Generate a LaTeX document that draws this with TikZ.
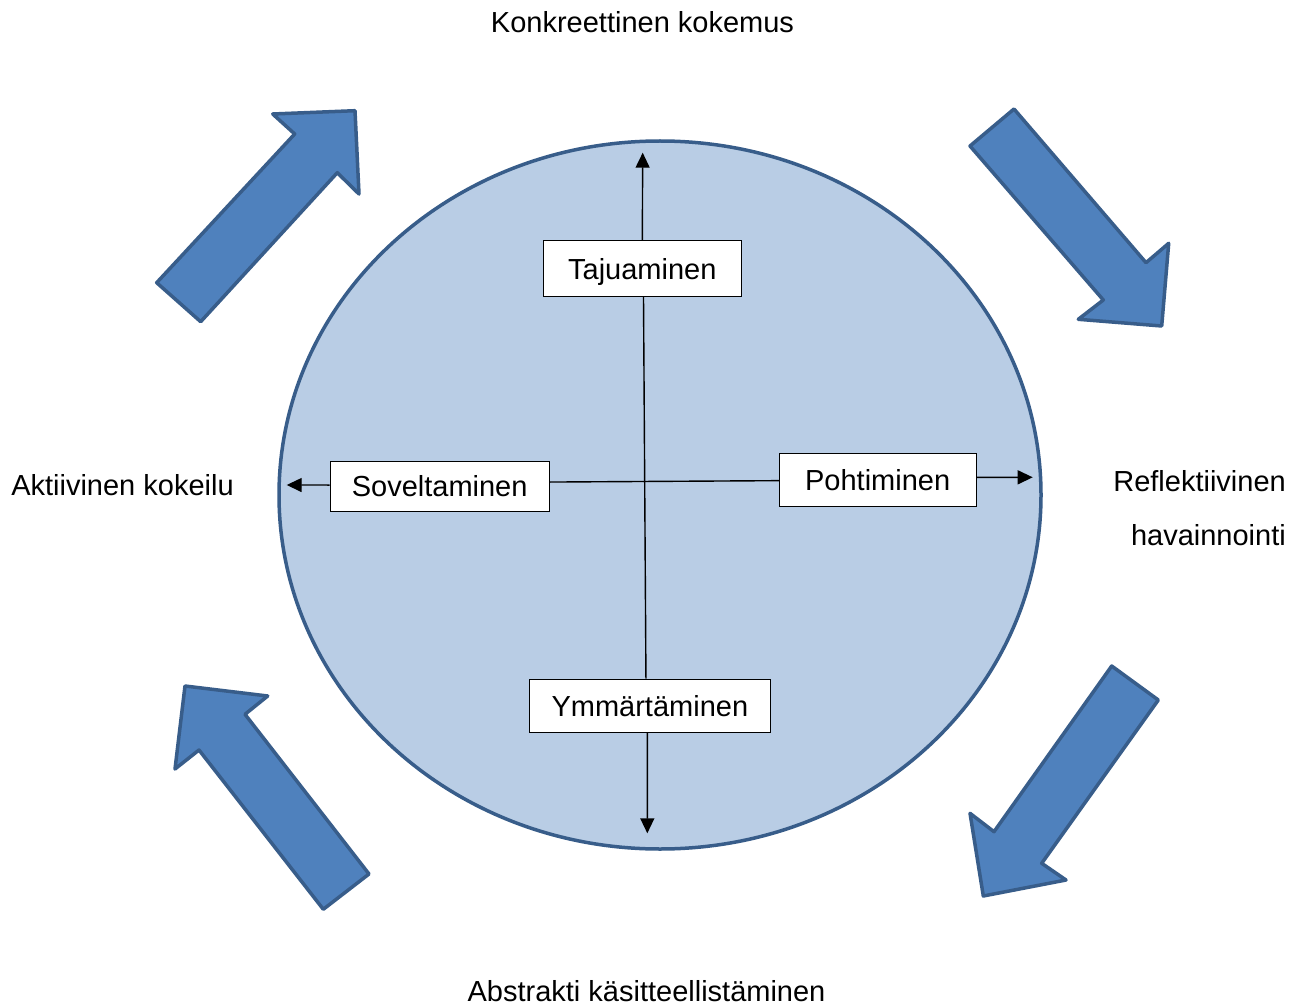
\documentclass[tikz,border=0pt]{standalone}
\usepackage{fontspec}
\setmainfont{Liberation Sans}
\usetikzlibrary{arrows.meta}
\definecolor{arrfill}{HTML}{4F81BD}
\definecolor{arrline}{HTML}{385D8A}
\definecolor{ellfill}{HTML}{B9CDE5}
\begin{document}
\begin{tikzpicture}[x=1pt,y=-1pt,
  bigarrow/.style={fill=arrfill,draw=arrline,line width=3.5pt,line join=round},
  stage/.style={draw=black,fill=white,line width=1pt,font=\fontsize{29}{34}\selectfont,
    text height=20.8pt,text depth=0pt,inner sep=0pt},
  label/.style={font=\fontsize{29}{34}\selectfont,inner sep=0pt},
  conn/.style={line width=1.4pt,-{Triangle[length=15pt,width=14pt]}},
  plain/.style={line width=1.4pt}]
\useasboundingbox (0,0) rectangle (1306,1008);
\fill[white] (0,0) rectangle (1306,1008);
% circle
\draw[fill=ellfill,draw=arrline,line width=3.5pt] (660,495) ellipse [x radius=381, y radius=354];
% big arrows
\draw[bigarrow] (156.7,282.7) -- (294.7,134) -- (272.7,114) -- (355,110.7) -- (359,194) -- (337.3,172.7) -- (200.7,321.7) -- cycle;
\draw[bigarrow] (1014,109) -- (1146,262.7) -- (1168.7,243.3) -- (1161.7,326) -- (1078.3,319.3) -- (1103.3,300) -- (970,146) -- cycle;
\draw[bigarrow] (1111.7,666) -- (1158.3,700) -- (1041.7,863.3) -- (1066,880) -- (983.3,896) -- (970,813.3) -- (994,831.7) -- cycle;
\draw[bigarrow] (323.3,909.3) -- (369,874) -- (245,714.3) -- (267.7,696) -- (185,686) -- (175,769) -- (199,750) -- cycle;
% boxes
\node[stage,minimum width=198pt,minimum height=55.7pt] (taju) at (642.3,268.85) {Tajuaminen};
\node[stage,minimum width=219.3pt,minimum height=50.7pt] (sov) at (439.65,486.35) {Soveltaminen};
\node[stage,minimum width=196.7pt,minimum height=52.7pt] (poh) at (877.65,479.65) {Pohtiminen};
\node[stage,minimum width=241.7pt,minimum height=53.3pt] (ymm) at (649.85,705.65) {Ymmärtäminen};
% tips
\coordinate (ttip) at (642.7,152.7);
\coordinate (btip) at (647.3,833.3);
\coordinate (ltip) at (286.7,485);
\coordinate (rtip) at (1032.7,477.3);
% connectors
\draw[conn] (taju.north) -- (ttip);
\draw[plain] ([xshift=1.2pt]taju.south) -- ([xshift=-3.9pt]ymm.north);
\draw[conn] ([xshift=-2.5pt]ymm.south) -- (btip);
\draw[conn] ([yshift=1.3pt]sov.west) -- (ltip);
\draw[plain] ([yshift=4.3pt]sov.east) -- ([yshift=-1pt]poh.west);
\draw[conn] ([yshift=2.3pt]poh.east) -- (rtip);
% labels
\node[label,anchor=base] (top) at (642.5,33) {Konkreettinen kokemus};
\node[label,anchor=base] (left) at (122.5,495) {Aktiivinen kokeilu};
\node[label,anchor=base east] (right1) at (1286,491.7) {Reflektiivinen};
\node[label,anchor=base east] (right2) at (1286,545.7) {havainnointi};
\node[label,anchor=base] (bottom) at (646.5,1001.7) {Abstrakti käsitteellistäminen};
\end{tikzpicture}
\end{document}
